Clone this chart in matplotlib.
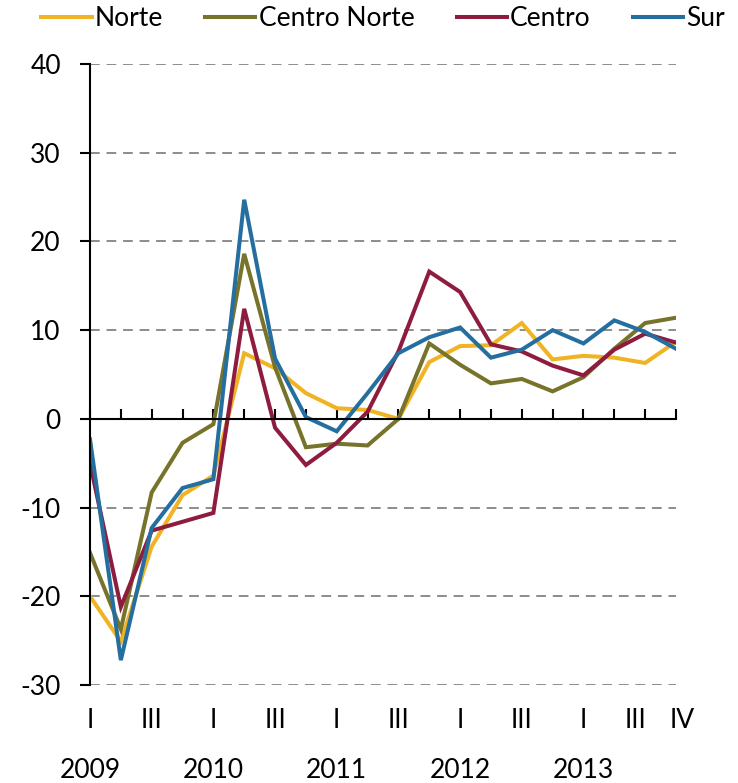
import matplotlib
matplotlib.use("Agg")
import matplotlib.pyplot as plt

# quarterly series, 2009 Q1 .. 2013 Q4
norte = [-20.0, -25.1, -14.4, -8.6, -6.4, 7.4, 5.7, 2.9, 1.2, 1.0,
         0.0, 6.4, 8.2, 8.3, 10.8, 6.7, 7.1, 6.9, 6.3, 8.7]
centro_norte = [-15.1, -23.7, -8.3, -2.7, -0.6, 18.6, 5.8, -3.2, -2.8, -3.0,
                0.0, 8.5, 6.1, 4.0, 4.5, 3.1, 4.7, 7.9, 10.8, 11.4]
centro = [-5.0, -21.2, -12.6, -11.6, -10.6, 12.4, -1.0, -5.2, -2.7, 0.8,
          7.6, 16.6, 14.3, 8.4, 7.6, 6.0, 4.9, 7.8, 9.6, 8.6]
sur = [-2.3, -27.2, -12.3, -7.8, -6.8, 24.7, 6.8, 0.2, -1.4, 2.9,
       7.4, 9.2, 10.3, 6.9, 7.8, 10.0, 8.5, 11.1, 9.8, 7.9]

series_names = ["Norte", "Centro Norte", "Centro", "Sur"]
colors = ["#F0B323", "#77732A", "#8E1C3E", "#246FA0"]

quarter_labels = ["I", "", "III", "", "I", "", "III", "", "I", "", "III", "",
                  "I", "", "III", "", "I", "", "III", "IV"]
year_labels = ["2009", "", "", "", "2010", "", "", "", "2011", "", "", "",
               "2012", "", "", "", "2013", "", "", ""]
y_ticks = [-30, -20, -10, 0, 10, 20, 30, 40]

plt.rcParams['font.family'] = ['Lato', 'DejaVu Sans']
plt.rcParams['axes.unicode_minus'] = False
fs = 19

fig = plt.figure(figsize=(7.38, 7.83), dpi=100)
W, H = 738, 783
ax = fig.add_axes([90 / W, 1 - 685 / H, (676 - 90) / W, (685 - 64) / H])

x = list(range(len(norte)))
for vals, name, c in zip([norte, centro_norte, centro, sur], series_names, colors):
    ax.plot(x, vals, color=c, lw=2.9, label=name, solid_joinstyle='miter')

ax.set_xlim(0, len(norte) - 1)
ax.set_ylim(-30, 40)

# dashed grid, except on zero where the axis sits
for t in y_ticks:
    if t != 0:
        ax.axhline(t, color="#8c8c8c", lw=1.4, ls=(0, (5, 3.5)), zorder=0)

for s in ["top", "right"]:
    ax.spines[s].set_visible(False)
ax.spines["bottom"].set_position(("data", 0))
ax.spines["bottom"].set_linewidth(1.5)
ax.spines["left"].set_linewidth(1.5)

ax.set_yticks(y_ticks)
ax.tick_params(axis="y", direction="out", length=7, width=1.5, pad=14, labelsize=fs)
ax.set_xticks(x)
ax.tick_params(axis="x", direction="in", length=7, width=1.5, labelbottom=False)

tr = ax.get_xaxis_transform()
for i, (q, yr) in enumerate(zip(quarter_labels, year_labels)):
    dx = 0
    if q == "III" and i == len(x) - 2:
        dx = -0.3
    if q == "IV":
        dx = 0.2
    if q:
        ax.text(i + dx, -0.057, q, transform=tr, ha="center", va="center", fontsize=fs)
    if yr:
        ax.text(i, -0.137, yr, transform=tr, ha="center", va="center", fontsize=fs)

fig.legend(loc="center", bbox_to_anchor=(383 / W, 1 - 19 / H), ncol=4, frameon=False,
           fontsize=fs, handlelength=1.9, handletextpad=0.12, columnspacing=1.6)

fig.savefig("out.png", dpi=100)
